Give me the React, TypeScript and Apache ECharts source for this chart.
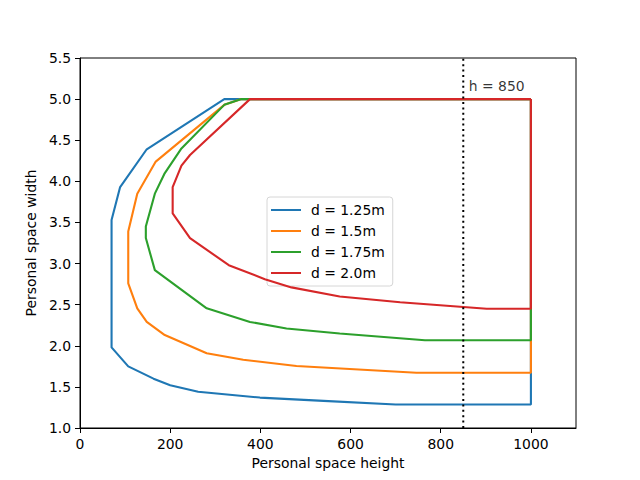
import React, { useEffect, useRef } from "react";
import * as echarts from "echarts";

const xTicks = [0, 200, 400, 600, 800, 1000];
const seriesNames = ["d = 1.25m", "d = 1.5m", "d = 1.75m", "d = 2.0m"];
const colors = ["#1f77b4", "#ff7f0e", "#2ca02c", "#d62728"];

const d125: number[][] = [
  [1000, 5.0], [320, 5.0], [148, 4.39], [89, 3.93], [70, 3.53], [70, 1.98],
  [107, 1.75], [163, 1.6], [200, 1.52], [262, 1.44], [399, 1.37], [540, 1.33],
  [700, 1.285], [1000, 1.285], [1000, 5.0],
];
const d150: number[][] = [
  [1000, 5.0], [358, 5.0], [320, 4.93], [168, 4.24], [127, 3.85], [107, 3.39],
  [107, 2.76], [127, 2.456], [148, 2.29], [188, 2.13], [281, 1.91], [362, 1.83],
  [480, 1.754], [746, 1.672], [1000, 1.672], [1000, 5.0],
];
const d175: number[][] = [
  [1000, 5.0], [358, 5.0], [320, 4.93], [225, 4.4], [187, 4.09], [166, 3.85],
  [146, 3.45], [146, 3.31], [166, 2.92], [281, 2.456], [377, 2.29], [458, 2.21],
  [576, 2.15], [765, 2.067], [1000, 2.067], [1000, 5.0],
];
const d200: number[][] = [
  [1000, 5.0], [377, 5.0], [244, 4.32], [225, 4.19], [205.5, 3.93], [205.5, 3.61],
  [244, 3.31], [330, 2.98], [410, 2.81], [469, 2.71], [576, 2.6], [710, 2.53],
  [843, 2.475], [902, 2.45], [1000, 2.45], [1000, 5.0],
];
const curves = [d125, d150, d175, d200];

const hLine: number[][] = [[850, 1.0], [850, 5.5]];
const hLabelPos: number[][] = [[860, 5.1]];
const hLabelText = "h = 850";

const FONT = "DejaVu Sans";
const FS = 13.9;

export default function App() {
  const ref = useRef<HTMLDivElement>(null);
  useEffect(() => {
    if (!ref.current) return;
    const chart = echarts.init(ref.current, null, { renderer: "svg" });
    const lineSeries = curves.map((data, i) => ({
      name: seriesNames[i],
      type: "line",
      data,
      symbol: "none",
      showSymbol: false,
      lineStyle: { color: colors[i], width: 2.1 },
      itemStyle: { color: colors[i] },
      z: 2 + i,
    }));
    chart.setOption({
      animation: false,
      backgroundColor: "#ffffff",
      textStyle: { fontFamily: FONT },
      grid: {
        left: 80,
        right: 64,
        top: 58,
        bottom: 52,
        show: true,
        borderColor: "#000",
        borderWidth: 1,
        backgroundColor: "transparent",
        outerBoundsMode: "none",
      },
      legend: {
        data: seriesNames,
        orient: "vertical",
        left: 267,
        top: 197,
        icon: "rect",
        itemWidth: 30,
        itemHeight: 2,
        itemGap: 7,
        padding: [6, 8, 6, 4],
        backgroundColor: "rgba(255,255,255,0.8)",
        borderColor: "#d6d6d6",
        borderWidth: 1,
        borderRadius: 3,
        textStyle: { fontFamily: FONT, fontSize: FS, color: "#000", padding: [0, 0, 0, 5] },
      },
      xAxis: {
        type: "value",
        min: 0,
        max: 1100,
        interval: 200,
        name: "Personal space height",
        nameLocation: "middle",
        nameGap: 27,
        nameTextStyle: { fontFamily: FONT, fontSize: FS, color: "#000" },
        splitLine: { show: false },
        axisLine: { show: true, lineStyle: { color: "#000", width: 1 } },
        axisTick: { show: true, inside: false, length: 5, lineStyle: { color: "#000", width: 1 }, customValues: xTicks },
        axisLabel: {
          fontFamily: FONT,
          fontSize: FS,
          color: "#000",
          margin: 9,
          customValues: xTicks,
          formatter: (v: number) => String(v),
        },
      },
      yAxis: {
        type: "value",
        min: 1.0,
        max: 5.5,
        interval: 0.5,
        name: "Personal space width",
        nameLocation: "middle",
        nameGap: 36,
        nameTextStyle: { fontFamily: FONT, fontSize: FS, color: "#000" },
        splitLine: { show: false },
        axisLine: { show: true, lineStyle: { color: "#000", width: 1 } },
        axisTick: { show: true, inside: false, length: 5, lineStyle: { color: "#000", width: 1 } },
        axisLabel: {
          fontFamily: FONT,
          fontSize: FS,
          color: "#000",
          margin: 9,
          formatter: (v: number) => v.toFixed(1),
        },
      },
      series: [
        ...lineSeries,
        {
          name: "h850",
          type: "line",
          data: hLine,
          symbol: "none",
          lineStyle: { color: "#000", width: 2, type: [2, 3.4] },
          z: 10,
        },
        {
          name: "h850label",
          type: "scatter",
          data: hLabelPos,
          symbolSize: 0,
          silent: true,
          label: {
            show: true,
            formatter: hLabelText,
            position: [0, 0],
            offset: [1, 2],
            align: "left",
            verticalAlign: "bottom",
            fontFamily: FONT,
            fontSize: FS,
            color: "#000",
          },
          z: 11,
        },
      ],
    });
    return () => chart.dispose();
  }, []);
  return (
    <div
      ref={ref}
      style={{ position: "fixed", left: 0, top: 0, width: 640, height: 480, background: "#fff" }}
    />
  );
}
